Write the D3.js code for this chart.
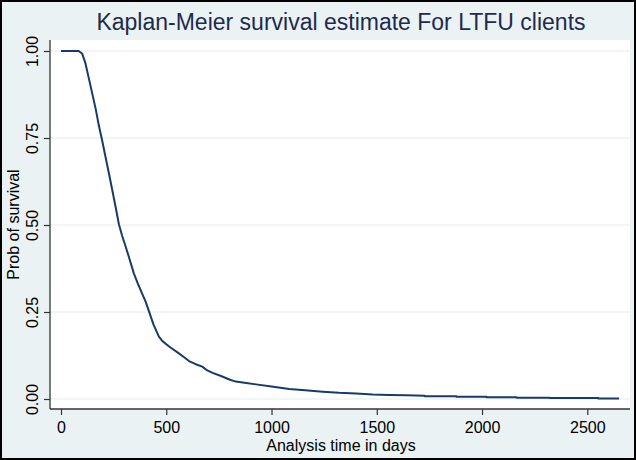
<!DOCTYPE html>
<html>
<head>
<meta charset="utf-8">
<script src="https://cdn.jsdelivr.net/npm/d3@7/dist/d3.min.js"></script>
<style>
  html, body { margin: 0; padding: 0; background: #fff; }
  svg { display: block; }
  text { font-family: "Liberation Sans", Arial, sans-serif; }
</style>
</head>
<body>
<script>
// ---- Data ----
const titleText = "Kaplan-Meier survival estimate For LTFU clients";
const xTitle = "Analysis time in days";
const yTitle = "Prob of survival";
const xTicks = [0, 500, 1000, 1500, 2000, 2500];
const yTicks = [0, 0.25, 0.5, 0.75, 1];

const times = [0, 84, 100, 116, 132, 148, 165, 180, 195, 211, 227, 243, 259, 275, 290, 305, 320, 346, 366, 386, 402, 418, 440, 465, 481, 497, 520, 560, 585, 608, 640, 671, 695, 720, 760, 800, 830, 880, 926, 1000, 1084, 1160, 1243, 1320, 1402, 1480, 1560, 1640, 1727, 1727, 1878, 1878, 2021, 2021, 2164, 2164, 2322, 2322, 2552, 2552, 2651];
const survival = [1.0, 1.0, 0.993, 0.965, 0.922, 0.879, 0.833, 0.785, 0.744, 0.697, 0.650, 0.602, 0.553, 0.502, 0.470, 0.442, 0.413, 0.361, 0.330, 0.302, 0.280, 0.252, 0.213, 0.179, 0.167, 0.159, 0.148, 0.131, 0.120, 0.109, 0.100, 0.093, 0.082, 0.075, 0.066, 0.056, 0.050, 0.046, 0.042, 0.036, 0.029, 0.025, 0.021, 0.018, 0.016, 0.013, 0.0115, 0.0105, 0.0095, 0.0078, 0.0078, 0.0062, 0.0062, 0.0048, 0.0048, 0.0037, 0.0037, 0.0027, 0.0027, 0.0017, 0.0017];

// ---- Layout ----
const W = 636, H = 460;
const plot = { left: 50, right: 630, top: 40, bottom: 409 };

const svg = d3.select("body").append("svg")
  .attr("width", W).attr("height", H);

// graph region background + outer border
svg.append("rect")
  .attr("x", 1).attr("y", 1).attr("width", W - 2).attr("height", H - 2)
  .attr("fill", "#eaf2f3").attr("stroke", "#000").attr("stroke-width", 2);

// plot region
svg.append("rect")
  .attr("x", plot.left).attr("y", plot.top)
  .attr("width", plot.right - plot.left).attr("height", plot.bottom - plot.top)
  .attr("fill", "#fff");

const x = d3.scaleLinear().domain([0, 2500]).range([61, 587.3]);
const y = d3.scaleLinear().domain([0, 1]).range([399, 51]);

// gridlines
svg.append("g").selectAll("line").data(yTicks).join("line")
  .attr("x1", plot.left).attr("x2", plot.right)
  .attr("y1", d => y(d)).attr("y2", d => y(d))
  .attr("stroke", "#e3ecef").attr("stroke-width", 1.2);

// survival curve
const data = times.map((t, i) => [t, survival[i]]);
svg.append("path")
  .datum(data)
  .attr("fill", "none")
  .attr("stroke", "#1a3a66")
  .attr("stroke-width", 2)
  .attr("stroke-linejoin", "round")
  .attr("d", d3.line().x(d => x(d[0])).y(d => y(d[1])));

// x axis
const gx = svg.append("g").attr("transform", `translate(0,${plot.bottom})`)
  .call(d3.axisBottom(x).tickValues(xTicks).tickFormat(d3.format("d"))
    .tickSize(6).tickPadding(7).tickSizeOuter(0));
gx.select(".domain").remove();
gx.selectAll(".tick line").attr("stroke", "#333").attr("stroke-width", 1.2);
gx.selectAll(".tick text").attr("font-size", 16).attr("fill", "#000")
  .attr("font-family", "Liberation Sans, Arial, sans-serif");

// y axis
const gy = svg.append("g").attr("transform", `translate(${plot.left},0)`)
  .call(d3.axisLeft(y).tickValues(yTicks).tickFormat(d3.format(".2f"))
    .tickSize(6).tickSizeOuter(0));
gy.select(".domain").remove();
gy.selectAll(".tick line").attr("stroke", "#333").attr("stroke-width", 1.2);
gy.selectAll(".tick text")
  .attr("font-size", 16).attr("fill", "#000")
  .attr("font-family", "Liberation Sans, Arial, sans-serif")
  .attr("x", null).attr("dy", null)
  .attr("text-anchor", "middle")
  .attr("transform", "translate(-12,0) rotate(-90)");

// axis lines
svg.append("line").attr("x1", plot.left).attr("x2", plot.right)
  .attr("y1", plot.bottom).attr("y2", plot.bottom)
  .attr("stroke", "#333").attr("stroke-width", 1.3);
svg.append("line").attr("x1", plot.left).attr("x2", plot.left)
  .attr("y1", plot.top).attr("y2", plot.bottom)
  .attr("stroke", "#333").attr("stroke-width", 1.3);

// titles
svg.append("text").attr("x", 341).attr("y", 30)
  .attr("text-anchor", "middle").attr("font-size", 23).attr("fill", "#1e2a4e")
  .text(titleText);

svg.append("text").attr("x", 341).attr("y", 451)
  .attr("text-anchor", "middle").attr("font-size", 16).attr("fill", "#000")
  .text(xTitle);

svg.append("text")
  .attr("transform", `translate(19,${(plot.top + plot.bottom) / 2}) rotate(-90)`)
  .attr("text-anchor", "middle").attr("font-size", 16).attr("fill", "#000")
  .text(yTitle);
</script>
</body>
</html>
